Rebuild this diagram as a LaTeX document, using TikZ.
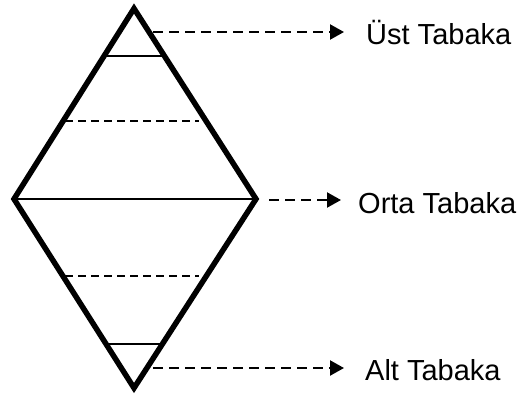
\documentclass[tikz,border=0pt]{standalone}
\usepackage{fontspec}
\setmainfont{Liberation Sans}
\usetikzlibrary{arrows.meta}
\begin{document}
\begin{tikzpicture}[x=1pt,y=-1pt,
  outline/.style={line width=5.5pt,line join=miter},
  layer/.style={line width=2.6pt},
  midline/.style={line width=1.4pt},
  sublayer/.style={line width=1.3pt,dash pattern=on 8pt off 5pt},
  pointer/.style={line width=2.2pt,dash pattern=on 10pt off 6pt,-{Triangle[length=14pt,width=15pt]}},
  lbl/.style={anchor=base west,inner sep=0pt,font=\fontsize{29}{33}\selectfont}]
\useasboundingbox (0,0) rectangle (529,396);
\coordinate (T) at (134,8.5);
\coordinate (B) at (134,388);
\coordinate (L) at (14,199);
\coordinate (R) at (256,199);
% layer lines
\draw[layer] (107,56) -- (162,56);
\draw[sublayer] (65,121) -- (199,121);
\draw[midline] (L) -- (R);
\draw[sublayer] (65,276) -- (199,276);
\draw[layer] (107,344) -- (162,344);
\draw[outline] (T) -- (R) -- (B) -- (L) -- cycle;
% labels
\node[lbl] (ust) at (366,45) {Üst Tabaka};
\node[lbl] (orta) at (358,213) {Orta Tabaka};
\node[lbl] (alt) at (365,380) {Alt Tabaka};
% arrows
\coordinate (a1) at (153,32);
\coordinate (a1e) at (344,32);
\coordinate (a2) at (269,200);
\coordinate (a2e) at (341,200);
\coordinate (a3) at (153,368);
\coordinate (a3e) at (344,368);
\draw[pointer] (a1) -- (a1e);
\draw[pointer] (a2) -- (a2e);
\draw[pointer] (a3) -- (a3e);
\end{tikzpicture}
\end{document}
